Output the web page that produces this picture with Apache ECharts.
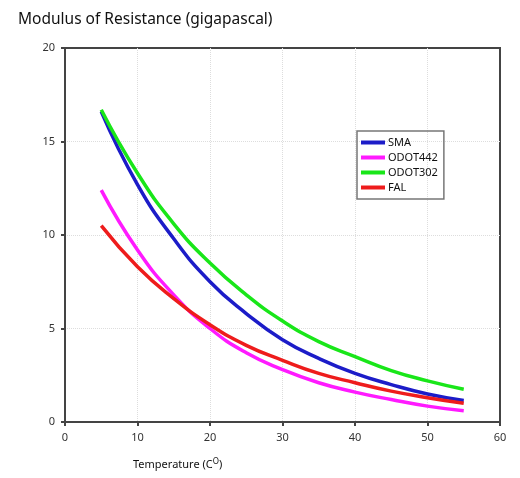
<!DOCTYPE html>
<html>
<head>
<meta charset="utf-8">
<script src="https://cdn.jsdelivr.net/npm/echarts@6/dist/echarts.min.js"></script>
<style>
  html, body { margin: 0; padding: 0; background: #fff; }
  #main { width: 520px; height: 478px; }
</style>
</head>
<body>
<div id="main"></div>
<script>
// temperatures (C) where the curves were read
var temps = [5, 10, 15, 20, 25, 30, 35, 40, 45, 50, 55];
// modulus of resistance (GPa)
var sma     = [16.6, 12.7, 9.8, 7.5, 5.8, 4.4, 3.4, 2.6, 2.0, 1.5, 1.15];
var odot442 = [12.4, 9.2, 6.8, 5.0, 3.7, 2.8, 2.1, 1.6, 1.2, 0.85, 0.6];
var odot302 = [16.7, 13.3, 10.6, 8.5, 6.8, 5.4, 4.3, 3.5, 2.75, 2.2, 1.75];
var fal     = [10.5, 8.3, 6.6, 5.2, 4.1, 3.3, 2.6, 2.1, 1.65, 1.3, 1.0];

var names = ['SMA', 'ODOT442', 'ODOT302', 'FAL'];
var colors = ['#1c1cc8', '#ff1aff', '#19e619', '#ee1c1c'];

function pairs(vals) {
    var out = [];
    for (var i = 0; i < temps.length; i++) {
        out.push([temps[i], vals[i]]);
    }
    return out;
}

function makeSeries(name, vals, color) {
    return {
        name: name,
        type: 'line',
        smooth: true,
        showSymbol: false,
        data: pairs(vals),
        lineStyle: { width: 3.5, color: color },
        itemStyle: { color: color }
    };
}

var chart = echarts.init(document.getElementById('main'));
var option = {
    animation: false,
    textStyle: { fontFamily: 'Noto Sans' },
    title: {
        text: 'Modulus of Resistance (gigapascal)',
        left: 13,
        top: 7,
        textStyle: { fontSize: 15.5, fontWeight: 'normal', color: '#111' }
    },
    legend: {
        orient: 'vertical',
        left: 357,
        top: 131,
        data: names,
        icon: 'rect',
        itemWidth: 24,
        itemHeight: 4,
        itemGap: 4,
        padding: [6, 6, 6, 4],
        borderColor: '#777',
        borderWidth: 1.5,
        textStyle: { fontSize: 11, color: '#111', padding: [0, 0, 0, -2] }
    },
    grid: {
        left: 65, right: 20, top: 48, bottom: 56,
        show: true,
        borderColor: '#444',
        borderWidth: 2
    },
    xAxis: {
        type: 'value',
        min: 0, max: 60, interval: 10,
        name: '{a|Temperature (C}{s|O}{a|)}',
        nameLocation: 'start',
        nameGap: 0,
        nameTextStyle: {
            align: 'left',
            verticalAlign: 'top',
            padding: [36, 0, 0, 68],
            rich: {
                a: { fontSize: 11, color: '#111' },
                s: { fontSize: 8, color: '#111', verticalAlign: 'bottom', padding: [0, 0, 6, 0] }
            }
        },
        axisLine: { lineStyle: { color: '#444', width: 2 } },
        axisTick: { length: 4, lineStyle: { color: '#444', width: 2 } },
        axisLabel: { fontSize: 11, color: '#333', margin: 10 },
        splitLine: { show: true, showMinLine: false, showMaxLine: false, lineStyle: { type: 'dotted', color: '#ddd' } }
    },
    yAxis: {
        type: 'value',
        min: 0, max: 20, interval: 5,
        axisLine: { show: true, lineStyle: { color: '#444', width: 2 } },
        axisTick: { show: true, length: 4, lineStyle: { color: '#444', width: 2 } },
        axisLabel: { fontSize: 11, color: '#333', margin: 10 },
        splitLine: { show: true, showMinLine: false, showMaxLine: false, lineStyle: { type: 'dotted', color: '#ddd' } }
    },
    series: [
        makeSeries(names[0], sma, colors[0]),
        makeSeries(names[1], odot442, colors[1]),
        makeSeries(names[2], odot302, colors[2]),
        makeSeries(names[3], fal, colors[3])
    ]
};
chart.setOption(option);
</script>
</body>
</html>
